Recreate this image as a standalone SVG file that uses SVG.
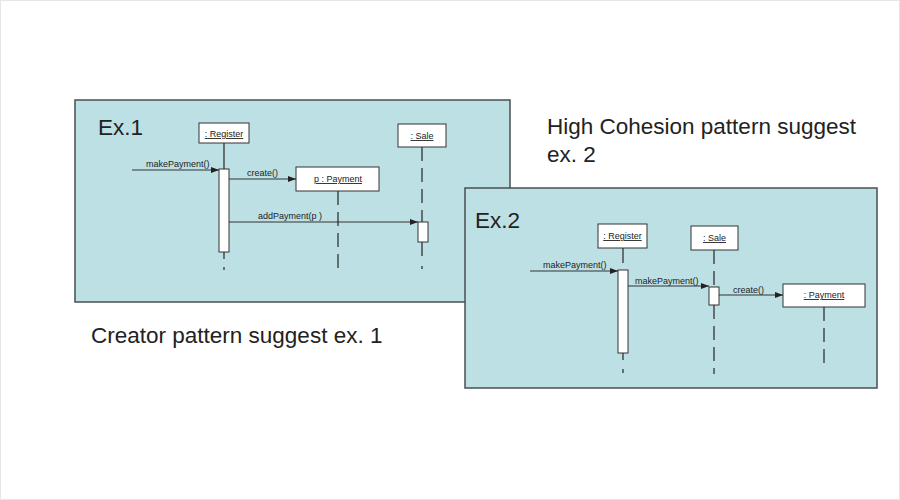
<svg xmlns="http://www.w3.org/2000/svg" width="900" height="500" viewBox="0 0 900 500">
<style>
.panel{fill:#bde0e4;stroke:#4a4f52;stroke-width:1.5}
.obj{fill:#ffffff;stroke:#333;stroke-width:1}
.act{fill:#ffffff;stroke:#333;stroke-width:1}
.ll{stroke:#333;stroke-width:1.3;fill:none;stroke-dasharray:14 7}
.msg{stroke:#333;stroke-width:1.1;fill:none;marker-end:url(#ah)}
.big{font-family:"Liberation Sans",Arial,sans-serif;font-size:22.5px;fill:#222}
.lbl{font-family:"Liberation Sans",Arial,sans-serif;font-size:9px;fill:#222}
.on{font-family:"Liberation Sans",Arial,sans-serif;font-size:9px;fill:#222;text-decoration:underline;text-anchor:middle}
</style>
<defs>
<marker id="ah" viewBox="0 0 8 6" refX="8" refY="3" markerWidth="8" markerHeight="6" markerUnits="userSpaceOnUse" orient="auto">
<path d="M0,0 L8,3 L0,6 Z" fill="#222"/>
</marker>
</defs>
<rect x="0.5" y="0.5" width="899" height="499" fill="#ffffff" stroke="#e6e6e6"/>

<g id="ex1">
<rect class="panel" x="75" y="100" width="435" height="202"/>
<text class="big" x="98" y="135">Ex.1</text>
<g id="ex1-register">
<rect class="obj" x="199" y="123" width="50" height="20"/>
<text class="on" x="224" y="137">: Register</text>
<line x1="224" y1="143" x2="224" y2="169" stroke="#333" stroke-width="1.3"/>
<rect class="act" x="219" y="169" width="10" height="83"/>
<line x1="224" y1="252" x2="224" y2="272" stroke="#333" stroke-width="1.3" stroke-dasharray="7 8 3 10"/>
</g>
<g id="ex1-payment">
<rect class="obj" x="296" y="167" width="83" height="24"/>
<text class="on" x="338" y="182">p : Payment</text>
<line class="ll" x1="338" y1="191" x2="338" y2="268"/>
</g>
<g id="ex1-sale">
<rect class="obj" x="398" y="124" width="48" height="23"/>
<text class="on" x="422" y="139">: Sale</text>
<line class="ll" x1="422" y1="147" x2="422" y2="222"/>
<rect class="act" x="418" y="222" width="10" height="20"/>
<line x1="422" y1="242" x2="422" y2="272" stroke="#333" stroke-width="1.3" stroke-dasharray="14 10 3 10"/>
</g>
</g>

<g id="ex2">
<rect class="panel" x="465" y="188" width="412" height="200"/>
<text class="big" x="475" y="228">Ex.2</text>
<g id="ex2-register">
<rect class="obj" x="598" y="224" width="49" height="24"/>
<text class="on" x="622.5" y="239">: Register</text>
<line x1="623" y1="248" x2="623" y2="263" stroke="#333" stroke-width="1.3"/>
<rect class="act" x="618" y="270" width="10" height="83"/>
<line x1="623" y1="353" x2="623" y2="374" stroke="#333" stroke-width="1.3" stroke-dasharray="7 9 4 10"/>
</g>
<g id="ex2-sale">
<rect class="obj" x="691" y="226" width="47" height="24"/>
<text class="on" x="714.5" y="241">: Sale</text>
<line class="ll" x1="714" y1="250" x2="714" y2="287"/>
<rect class="act" x="709" y="287" width="10" height="18"/>
<line class="ll" x1="714" y1="305" x2="714" y2="374"/>
</g>
<g id="ex2-payment">
<rect class="obj" x="783" y="284" width="82" height="23"/>
<text class="on" x="824" y="298">: Payment</text>
<line class="ll" x1="824" y1="307" x2="824" y2="366"/>
</g>
</g>

<g id="connectors">
<line class="msg" x1="132" y1="170" x2="219" y2="170"/>
<line class="msg" x1="229" y1="179" x2="296" y2="179"/>
<line class="msg" x1="229" y1="222" x2="418" y2="222"/>
<line class="msg" x1="530" y1="271" x2="618" y2="271"/>
<line class="msg" x1="628" y1="286" x2="709" y2="286"/>
<line class="msg" x1="719" y1="295" x2="783" y2="295"/>
</g>

<g id="labels">
<text class="lbl" x="146" y="167">makePayment()</text>
<text class="lbl" x="247" y="176">create()</text>
<text class="lbl" x="258" y="219">addPayment(p )</text>
<text class="lbl" x="543" y="268">makePayment()</text>
<text class="lbl" x="635" y="284">makePayment()</text>
<text class="lbl" x="733" y="293">create()</text>
<text class="big" x="547" y="134">High Cohesion pattern suggest</text>
<text class="big" x="547" y="162">ex. 2</text>
<text class="big" x="91" y="343">Creator pattern suggest ex. 1</text>
</g>
</svg>
